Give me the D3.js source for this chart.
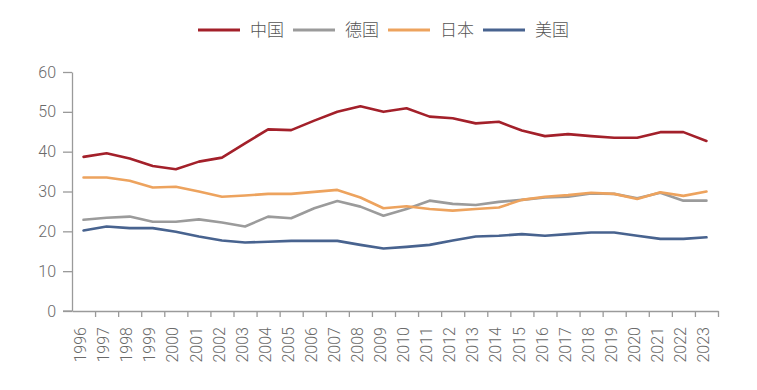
<!DOCTYPE html>
<html>
<head>
<meta charset="utf-8">
<script src="https://cdn.jsdelivr.net/npm/d3@7"></script>
<style>
  body { margin: 0; background: #fff; }
  svg { display: block; }
</style>
</head>
<body>
<div id="chart"></div>
<script>
// Data
const YEARS = ['1996', '1997', '1998', '1999', '2000', '2001', '2002', '2003', '2004', '2005',
    '2006', '2007', '2008', '2009', '2010', '2011', '2012', '2013', '2014', '2015',
    '2016', '2017', '2018', '2019', '2020', '2021', '2022', '2023'];
const CHINA = [38.7, 39.6, 38.3, 36.4, 35.6, 37.5, 38.5, 42.1, 45.6, 45.4,
    47.8, 50.0, 51.4, 50.0, 50.9, 48.8, 48.4, 47.1, 47.5, 45.3,
    43.9, 44.4, 43.9, 43.5, 43.5, 44.9, 44.9, 42.7];
const GERMANY = [22.9, 23.4, 23.7, 22.4, 22.4, 23.0, 22.2, 21.2, 23.7, 23.3,
    25.8, 27.6, 26.2, 23.9, 25.6, 27.7, 26.9, 26.6, 27.4, 27.9,
    28.5, 28.7, 29.5, 29.4, 28.3, 29.7, 27.7, 27.7];
const JAPAN = [33.5, 33.5, 32.7, 31.0, 31.2, 30.0, 28.7, 29.0, 29.4, 29.4,
    29.9, 30.4, 28.5, 25.8, 26.3, 25.6, 25.2, 25.6, 26.0, 27.9,
    28.7, 29.1, 29.7, 29.4, 28.1, 29.8, 28.9, 30.0];
const USA = [20.2, 21.2, 20.8, 20.8, 19.9, 18.7, 17.7, 17.2, 17.4, 17.6,
    17.6, 17.6, 16.6, 15.7, 16.1, 16.6, 17.7, 18.7, 18.9, 19.3,
    18.9, 19.3, 19.7, 19.7, 18.9, 18.1, 18.1, 18.5];
const Y_TICKS = [0, 10, 20, 30, 40, 50, 60];

const SERIES = [
    { name: '中国', values: CHINA, color: '#a3202a' },
    { name: '德国', values: GERMANY, color: '#9b9b9b' },
    { name: '日本', values: JAPAN, color: '#eda35e' },
    { name: '美国', values: USA, color: '#48638f' }
];

const WIDTH = 757;
const HEIGHT = 390;
const PLOT = { left: 72, right: 718, top: 72, bottom: 311 };
const AXIS_COLOR = '#9a9a9a';
const TEXT_COLOR = '#6a6a6a';

const SVG = d3.select('#chart').append('svg')
    .attr('width', WIDTH)
    .attr('height', HEIGHT);

// Scales
const X = d3.scaleBand()
    .domain(YEARS)
    .range([PLOT.left, PLOT.right])
    .padding(0);

const X_EDGES = d3.scaleLinear()
    .domain([0, YEARS.length])
    .range([PLOT.left, PLOT.right]);

const Y = d3.scaleLinear()
    .domain([0, 60])
    .range([PLOT.bottom, PLOT.top]);

// Y axis
const Y_AXIS = SVG.append('g')
    .attr('transform', `translate(${PLOT.left},0)`)
    .call(d3.axisLeft(Y).tickValues(Y_TICKS).tickSize(9).tickSizeOuter(0).tickPadding(7));

// X axis - boundary ticks
const X_TICKS = SVG.append('g')
    .attr('transform', `translate(0,${PLOT.bottom})`)
    .call(d3.axisBottom(X_EDGES).tickValues(d3.range(1, YEARS.length + 1)).tickSize(6).tickSizeOuter(0).tickFormat(''));

// X axis - labels
const X_LABELS = SVG.append('g')
    .attr('transform', `translate(0,${PLOT.bottom})`)
    .call(d3.axisBottom(X).tickSize(0).tickPadding(0));
X_LABELS.select('.domain').remove();
X_LABELS.selectAll('text')
    .attr('text-anchor', 'end')
    .attr('transform', 'rotate(-90)')
    .attr('x', -16)
    .attr('y', -3)
    .attr('dy', '0.35em');

[Y_AXIS, X_TICKS].forEach(g => {
    g.select('.domain').attr('stroke', AXIS_COLOR).attr('stroke-width', 1.3);
    g.selectAll('.tick line').attr('stroke', AXIS_COLOR).attr('stroke-width', 1.3);
});
// extend x domain line left to meet the tick at 0
X_TICKS.append('line')
    .attr('x1', PLOT.left - 9).attr('x2', PLOT.left)
    .attr('stroke', AXIS_COLOR).attr('stroke-width', 1.3);

SVG.selectAll('.tick text')
    .attr('fill', TEXT_COLOR)
    .style('font-family', 'Roboto, "Liberation Sans", sans-serif')
    .style('font-weight', 300)
    .style('font-size', '16px');

// Lines
const LINE = d3.line()
    .x((d, i) => X(YEARS[i]) + X.bandwidth() / 2)
    .y(d => Y(d));

SVG.append('g')
    .selectAll('path')
    .data(SERIES)
    .join('path')
    .attr('fill', 'none')
    .attr('stroke', d => d.color)
    .attr('stroke-width', 2.6)
    .attr('stroke-linejoin', 'round')
    .attr('stroke-linecap', 'round')
    .attr('d', d => LINE(d.values));

// Legend
const LEGEND_X = 198;
const LEGEND_Y = 30;
const LEGEND_STEP = 95;
const LEGEND = SVG.append('g')
    .attr('transform', `translate(${LEGEND_X},${LEGEND_Y})`);

const LEGEND_ITEMS = LEGEND.selectAll('g')
    .data(SERIES)
    .join('g')
    .attr('transform', (d, i) => `translate(${i * LEGEND_STEP},0)`);

LEGEND_ITEMS.append('line')
    .attr('x1', 0).attr('x2', 42)
    .attr('stroke', d => d.color)
    .attr('stroke-width', 3);

LEGEND_ITEMS.append('text')
    .attr('x', 52)
    .attr('dy', '0.35em')
    .attr('fill', '#555')
    .style('font-family', '"Noto Sans CJK SC", sans-serif')
    .style('font-weight', 300)
    .style('font-size', '17px')
    .text(d => d.name);
</script>
</body>
</html>
